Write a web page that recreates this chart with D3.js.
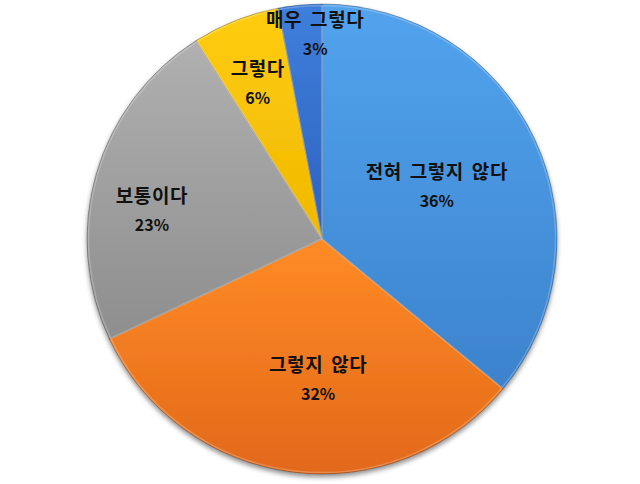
<!DOCTYPE html>
<html>
<head>
<meta charset="utf-8">
<script src="https://cdn.jsdelivr.net/npm/d3@7"></script>
<style>
  body { margin: 0; background: #fff; }
  text { font-family: "Malgun Gothic", "Noto Sans CJK KR", sans-serif; font-weight: bold; }
</style>
</head>
<body>
<div class="canvas"></div>
<script>
// data
const categories = ["전혀 그렇지 않다", "그렇지 않다", "보통이다", "그렇다", "매우 그렇다"];
const values = [36, 32, 23, 6, 3];
const topColors = ["#52a3ee", "#ff8b26", "#b0b0b0", "#ffcd10", "#3f7fdc"];
const bottomColors = ["#3c83cc", "#e2691a", "#8e8e8e", "#f0b800", "#2e62bf"];

const dims = {width: 640, height: 484, radius: 235};
const cent = {x: 322, y: 239};
// how far out each label sits (fraction of radius) and its angle nudge in degrees
const labelPos = [
  {r: 0.54, a: 0},
  {r: 0.59, a: -5.6},
  {r: 0.735, a: -6.2},
  {r: 0.72, a: -0.7},
  {r: 0.877, a: 3.5}
];

const svg = d3.select(".canvas")
  .append("svg")
  .attr("width", dims.width)
  .attr("height", dims.height);

const defs = svg.append("defs");

const shadow = defs.append("filter").attr("id", "shadow")
  .attr("x", "-10%").attr("y", "-10%").attr("width", "120%").attr("height", "120%");
shadow.append("feGaussianBlur").attr("in", "SourceAlpha").attr("stdDeviation", 2.5);
shadow.append("feOffset").attr("dx", 0).attr("dy", 3).attr("result", "blur");
shadow.append("feComponentTransfer").append("feFuncA").attr("type", "linear").attr("slope", 0.45);
const merge = shadow.append("feMerge");
merge.append("feMergeNode");
merge.append("feMergeNode").attr("in", "SourceGraphic");

categories.forEach((c, i) => {
  const g = defs.append("linearGradient").attr("id", "grad" + i)
    .attr("x1", 0).attr("y1", 0).attr("x2", 0).attr("y2", 1);
  g.append("stop").attr("offset", "0%").attr("stop-color", topColors[i]);
  g.append("stop").attr("offset", "100%").attr("stop-color", bottomColors[i]);
});

const graph = svg.append("g").attr("transform", `translate(${cent.x}, ${cent.y})`);

const pie = d3.pie().sort(null).value(d => d);
const arcPath = d3.arc().outerRadius(dims.radius).innerRadius(0);

const arcs = pie(values);

graph.append("g").attr("filter", "url(#shadow)")
  .selectAll("path")
  .data(arcs)
  .enter()
  .append("path")
  .attr("d", arcPath)
  .attr("fill", (d, i) => `url(#grad${i})`)
  .attr("stroke", "rgba(0,0,0,0.25)")
  .attr("stroke-width", 1);

// soft bevel highlight along slice edges
graph.append("g")
  .selectAll("path")
  .data(arcs)
  .enter()
  .append("path")
  .attr("d", d3.arc().outerRadius(dims.radius - 1.5).innerRadius(0))
  .attr("fill", "none")
  .attr("stroke", "rgba(255,255,255,0.22)")
  .attr("stroke-width", 1.5);

// labels
const labels = graph.selectAll("g.label")
  .data(arcs)
  .enter()
  .append("g")
  .attr("class", "label")
  .attr("transform", (d, i) => {
    const a = (d.startAngle + d.endAngle) / 2 + labelPos[i].a * Math.PI / 180;
    const r = dims.radius * labelPos[i].r;
    return `translate(${r * Math.sin(a)}, ${-r * Math.cos(a)})`;
  });

labels.append("text")
  .attr("text-anchor", "middle")
  .attr("y", -6)
  .attr("font-size", 19)
  .attr("letter-spacing", 0.6)
  .attr("word-spacing", 3)
  .attr("fill", "#111")
  .text((d, i) => categories[i]);

labels.append("text")
  .attr("text-anchor", "middle")
  .attr("y", 22)
  .attr("font-size", 16)
  .attr("fill", "#111")
  .text(d => d.data + "%");
</script>
</body>
</html>
